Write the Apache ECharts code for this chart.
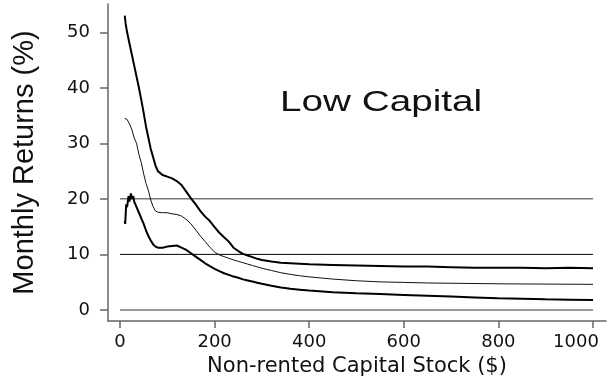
<!DOCTYPE html>
<html><head><meta charset="utf-8">
<script src="https://cdn.jsdelivr.net/npm/echarts@6/dist/echarts.min.js"></script>
<style>html,body{margin:0;padding:0;background:#fff}#c{width:608px;height:378px}</style>
</head><body><div id="c"></div>
<script>
const xTicks = [0, 200, 400, 600, 800, 1000];
const yTicks = [0, 10, 20, 30, 40, 50];
const refLines = [0, 10, 20];
const annotation = 'Low Capital';

const upperX = [10,12,15,20,25,30,35,40,45,50,55,60,65,70,75,80,90,100,110,120,130,140,150,160,170,180,190,200,210,220,230,240,250,260,270,280,290,300,320,340,360,380,400,450,500,550,600,650,700,750,800,850,900,950,1000];
const upperY = [53,51.5,50,48,46,44,42,40,37.8,35.5,33,31,29,27.5,26,25,24.3,24,23.7,23.2,22.5,21.3,20.1,19,17.8,16.8,16,14.9,13.9,13.1,12.3,11.2,10.6,10.1,9.8,9.5,9.2,9.0,8.7,8.5,8.4,8.3,8.2,8.1,8.0,7.9,7.8,7.8,7.7,7.6,7.6,7.6,7.5,7.6,7.5];

const meanX = [10,15,20,25,30,35,40,45,50,55,60,65,70,75,80,90,100,110,120,130,140,150,160,170,180,190,200,210,220,230,240,250,260,270,280,290,300,320,340,360,380,400,450,500,550,600,650,700,800,900,1000];
const meanY = [34.5,34.3,33.5,32.5,31,30,28,26.5,24.5,22.8,21.5,19.8,18.6,17.8,17.6,17.5,17.5,17.3,17.2,16.9,16.3,15.5,14.4,13.3,12.3,11.3,10.4,9.9,9.6,9.3,9.0,8.75,8.5,8.25,8.0,7.75,7.5,7.1,6.7,6.4,6.15,5.95,5.55,5.25,5.05,4.95,4.85,4.8,4.7,4.65,4.6];

const lowerX = [10,11,13,15,18,20,23,25,28,30,35,40,45,50,55,60,65,70,75,80,90,100,110,120,130,140,150,160,170,180,190,200,210,220,230,240,250,260,270,280,290,300,320,340,360,380,400,450,500,550,600,650,700,750,800,850,900,950,1000];
const lowerY = [16,15.5,19,18.5,20.5,19.5,21,20,20.5,19.5,18.5,17.5,16.5,15.5,14.3,13.3,12.5,11.8,11.4,11.2,11.2,11.4,11.5,11.6,11.2,10.8,10.2,9.6,9.0,8.4,7.9,7.4,7.0,6.6,6.3,6.0,5.8,5.5,5.3,5.1,4.9,4.7,4.35,4.05,3.8,3.65,3.5,3.2,3.0,2.85,2.7,2.55,2.4,2.25,2.1,2.0,1.9,1.85,1.8];

const zip = (xs, ys) => xs.map((x, i) => [x, ys[i]]);
const xMin = xTicks[0], xMax = xTicks[xTicks.length - 1];

const chart = echarts.init(document.getElementById('c'), null, {renderer: 'canvas'});
const lineSeries = (data, width, color) => ({
  type: 'line', data, showSymbol: false, symbol: 'none', smooth: false,
  lineStyle: {color, width}, silent: true, animation: false, z: 3
});
chart.setOption({
  animation: false,
  backgroundColor: '#fff',
  grid: {left: 108, right: 2, top: 4, bottom: 57, containLabel: false, outerBoundsMode: 'none'},
  xAxis: {
    type: 'value', min: -25.4, max: 1027.5,
    axisLine: {show: true, onZero: false, lineStyle: {color: '#666', width: 1.5}},
    axisTick: {show: true, length: 7, lineStyle: {color: '#666', width: 1.5}, customValues: xTicks},
    axisLabel: {
      customValues: xTicks,
      formatter: v => v === xMax ? '{last|' + v + '}' : String(v),
      rich: {last: {padding: [0, 34, 0, 0], fontFamily: 'DejaVu Sans', fontSize: 18, color: '#111'}},
      margin: 12, color: '#111', fontFamily: 'DejaVu Sans', fontSize: 18
    },
    splitLine: {show: false},
    name: 'Non-rented Capital Stock ($)', nameLocation: 'middle', nameGap: 34,
    nameTextStyle: {color: '#111', fontFamily: 'DejaVu Sans', fontSize: 21}
  },
  yAxis: {
    type: 'value', min: -2, max: 55.1,
    axisLine: {show: true, onZero: false, lineStyle: {color: '#666', width: 1.5}},
    axisTick: {show: true, length: 8, lineStyle: {color: '#666', width: 1.5}, customValues: yTicks},
    axisLabel: {customValues: yTicks, formatter: v => String(v), margin: 18, color: '#111', fontFamily: 'DejaVu Sans', fontSize: 18},
    splitLine: {show: false},
    name: 'Monthly Returns (%)', nameLocation: 'middle', nameGap: 69, nameRotate: 90,
    nameTextStyle: {color: '#111', fontFamily: 'Liberation Sans', fontSize: 29}
  },
  graphic: [{
    type: 'text', x: 280, y: 88, scaleX: 1.29, scaleY: 1,
    style: {text: annotation, fill: '#111', font: '30px "Liberation Sans"', textVerticalAlign: 'top', textAlign: 'left'}
  }],
  series: [
    ...refLines.map(v => ({
      type: 'line', data: [[xMin, v], [xMax, v]], showSymbol: false, symbol: 'none',
      lineStyle: {color: v === 10 ? '#000' : '#777', width: v === 10 ? 1 : 1.5}, silent: true, z: 2
    })),
    lineSeries(zip(upperX, upperY), 2, '#000'),
    lineSeries(zip(meanX, meanY), 1, '#111'),
    lineSeries(zip(lowerX, lowerY), 2, '#000')
  ]
});
</script></body></html>
